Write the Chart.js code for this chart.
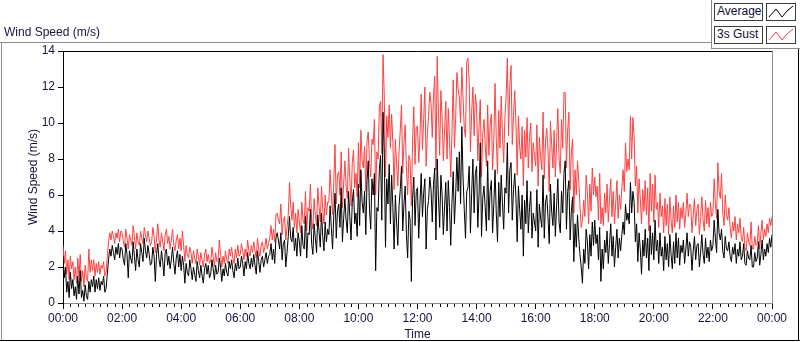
<!DOCTYPE html>
<html>
<head>
<meta charset="utf-8">
<script src="https://cdn.jsdelivr.net/npm/chart.js@4/dist/chart.umd.min.js"></script>
<style>
    body { margin: 0; background: #fff; font-family: "Liberation Sans", Arial, sans-serif; }
    #wrap { position: relative; width: 800px; height: 342px; overflow: hidden; }
    #myCanvas { position: absolute; left: 0; top: 0; }
    .ln { position: absolute; }
    .title { position: absolute; left: 4px; top: 25px; font-size: 12px; color: #14143c; }
    .leg { position: absolute; box-sizing: border-box; border: 1px solid #3c3c3c; background: #fff;
           font-size: 12px; color: #101030; line-height: 15px; padding-left: 2px; }
    .sw { position: absolute; box-sizing: border-box; border: 1px solid #3c3c3c; background: #fff; }
</style>
</head>
<body>
<div id="wrap">
    <canvas id="myCanvas" width="800" height="342"></canvas>
    <div class="title">Wind Speed (m/s)</div>
    <!-- panel frame -->
    <div class="ln" style="left:0;top:42px;width:711px;height:1px;background:#8c8c8c"></div>
    <div class="ln" style="left:1px;top:42px;width:1px;height:298px;background:#8c8c8c"></div>
    <div class="ln" style="left:0;top:340px;width:800px;height:1px;background:#000"></div>
    <div class="ln" style="left:798px;top:49px;width:1px;height:292px;background:#000"></div>
    <div class="ln" style="left:711px;top:0;width:1px;height:49px;background:#8c8c8c"></div>
    <div class="ln" style="left:711px;top:48px;width:89px;height:1px;background:#8c8c8c"></div>
    <!-- legend -->
    <div class="leg" style="left:714px;top:3px;width:49px;height:18px">Average</div>
    <div class="sw" style="left:766px;top:3px;width:30px;height:18px">
        <svg width="28" height="16"><polyline points="2,13 9,5 15,13 20,7 26,2" fill="none" stroke="#000" stroke-width="1"/></svg>
    </div>
    <div class="leg" style="left:714px;top:26px;width:49px;height:18px">3s Gust</div>
    <div class="sw" style="left:766px;top:26px;width:30px;height:18px">
        <svg width="28" height="16"><polyline points="2,13 9,5 15,13 20,7 26,2" fill="none" stroke="#ff4040" stroke-width="1"/></svg>
    </div>
</div>
<script>
// samples every 2.5 minutes from 00:00 to 24:00, one row per hour
var avgSpeed = [
    2.6, 1.4, 2.0, 0.6, 1.2, 0.3, 1.7, 0.8, 1.3, 0.4, 0.9, 0.2, 1.5, 0.5, 1.8, 0.3, 0.7, 0.1, 1.0, 0.4, 0.2, 1.2, 0.6, 1.3,
    0.9, 1.5, 0.6, 1.3, 0.8, 1.4, 0.7, 1.2, 1.0, 1.5, 0.6, 0.8, 1.6, 2.4, 3.0, 2.6, 3.2, 2.8, 2.4, 3.1, 2.7, 3.3, 2.5, 3.1,
    3.0, 2.4, 2.1, 3.3, 2.7, 1.4, 2.9, 2.5, 2.2, 3.4, 2.6, 1.8, 3.0, 2.4, 2.0, 3.3, 2.8, 2.3, 3.6, 2.9, 2.5, 3.2, 2.7, 2.1,
    2.2, 3.1, 2.6, 1.2, 2.7, 3.3, 2.4, 2.0, 2.9, 2.3, 1.5, 2.8, 3.0, 2.1, 2.6, 1.9, 2.4, 3.1, 2.2, 1.6, 2.5, 2.9, 2.0, 2.7,
    1.8, 2.6, 2.1, 1.1, 2.2, 1.7, 1.5, 2.4, 1.9, 1.3, 2.0, 1.6, 1.2, 2.3, 1.8, 1.4, 2.1, 1.5, 1.1, 1.9, 2.2, 1.6, 2.1, 1.4,
    1.6, 2.4, 1.9, 1.3, 2.1, 1.6, 1.7, 2.5, 2.0, 1.2, 1.9, 1.5, 2.2, 1.7, 1.5, 2.3, 1.9, 2.4, 1.8, 1.4, 2.2, 1.8, 2.5, 1.9,
    2.0, 2.6, 2.2, 1.5, 2.3, 1.9, 2.8, 2.2, 1.9, 2.5, 2.0, 2.7, 2.1, 1.6, 2.9, 2.3, 1.7, 2.4, 2.6, 2.0, 2.4, 2.8, 2.2, 2.6,
    2.7, 3.3, 2.4, 3.0, 2.2, 3.6, 3.9, 3.5, 3.0, 3.9, 2.4, 3.3, 3.5, 2.0, 2.8, 3.7, 4.8, 3.6, 3.4, 4.2, 2.9, 3.6, 2.6, 3.9,
    3.4, 2.6, 4.3, 3.2, 3.0, 4.8, 2.5, 3.9, 3.8, 5.2, 3.3, 2.7, 4.4, 3.6, 2.8, 4.9, 4.0, 3.1, 5.0, 3.7, 2.9, 4.5, 3.4, 4.1,
    3.8, 5.4, 4.2, 3.0, 4.9, 6.1, 3.6, 5.1, 5.5, 4.2, 6.4, 3.4, 4.7, 5.8, 4.6, 3.9, 6.2, 4.8, 3.5, 5.6, 6.3, 4.4, 5.0, 3.7,
    6.6, 4.3, 7.4, 5.6, 5.0, 6.2, 3.8, 6.8, 7.9, 5.2, 4.1, 6.9, 6.0, 7.2, 1.8, 5.3, 5.1, 7.4, 8.2, 4.6, 10.6, 8.3, 3.1, 6.9,
    5.5, 7.7, 4.4, 7.1, 5.3, 3.0, 6.0, 4.5, 3.2, 5.4, 6.3, 7.6, 4.0, 5.5, 6.5, 3.8, 2.5, 5.1, 4.6, 1.2, 5.8, 7.0, 4.3, 6.2,
    6.4, 3.6, 5.5, 7.2, 4.8, 6.1, 6.9, 3.0, 5.2, 5.7, 7.0, 6.3, 4.5, 6.6, 7.5, 3.5, 8.0, 5.9, 4.2, 7.1, 6.0, 3.8, 5.4, 6.7,
    4.0, 6.8, 5.3, 3.2, 5.6, 7.3, 4.4, 6.0, 8.1, 6.2, 8.4, 5.5, 9.8, 7.0, 5.2, 3.6, 6.2, 6.4, 7.6, 3.9, 6.1, 8.0, 5.0, 7.2,
    7.6, 4.2, 6.0, 8.9, 3.7, 5.8, 6.5, 5.3, 4.0, 7.9, 4.6, 6.2, 6.8, 3.9, 5.5, 7.4, 5.0, 3.4, 6.7, 4.8, 7.1, 5.6, 4.1, 6.4,
    6.1, 8.9, 5.0, 7.4, 7.8, 4.6, 6.3, 7.2, 5.8, 3.4, 6.5, 5.2, 4.1, 6.0, 2.6, 5.7, 4.4, 6.8, 3.9, 5.3, 6.2, 3.6, 5.0, 4.5,
    4.0, 6.3, 3.1, 5.5, 4.7, 4.2, 7.1, 3.6, 5.6, 6.0, 4.8, 3.3, 6.6, 5.1, 4.3, 6.1, 3.7, 5.4, 6.9, 4.5, 3.9, 6.2, 5.0, 7.2,
    7.9, 4.1, 6.2, 6.8, 3.5, 5.1, 5.9, 2.3, 4.4, 3.1, 4.9, 3.6, 2.7, 2.0, 1.1, 3.0, 2.2, 4.1, 3.4, 1.9, 3.8, 2.6, 4.5, 3.2,
    4.6, 3.3, 3.8, 2.4, 4.2, 1.2, 3.0, 1.9, 3.5, 2.8, 4.0, 2.2, 3.3, 4.4, 2.6, 3.7, 2.0, 3.1, 4.1, 2.5, 3.6, 2.9, 3.8, 4.5,
    3.8, 5.5, 4.6, 5.0, 4.4, 6.7, 5.0, 6.2, 5.6, 3.4, 4.4, 2.3, 3.9, 3.0, 1.6, 3.5, 2.6, 4.1, 2.5, 3.6, 1.8, 4.3, 2.7, 3.9,
    2.4, 4.6, 2.9, 3.5, 2.2, 3.9, 2.6, 3.1, 1.8, 3.7, 2.4, 3.3, 2.0, 3.8, 2.7, 1.9, 3.4, 2.2, 3.9, 2.5, 3.6, 2.1, 3.2, 2.8,
    3.5, 2.2, 3.0, 3.9, 2.6, 3.4, 3.1, 1.8, 2.9, 3.7, 2.4, 3.2, 3.3, 2.0, 2.8, 3.8, 2.7, 2.2, 3.6, 2.5, 3.1, 2.3, 3.5, 2.9,
    3.2, 4.6, 3.6, 2.8, 5.2, 3.9, 3.5, 4.1, 2.9, 2.5, 3.7, 3.0, 2.9, 3.4, 2.6, 2.3, 3.1, 2.7, 3.3, 2.2, 3.0, 2.6, 3.4, 2.4,
    2.6, 3.3, 2.2, 2.1, 2.9, 2.5, 2.4, 3.2, 2.0, 2.0, 2.8, 2.3, 2.5, 3.4, 2.1, 2.7, 3.5, 2.4, 3.0, 2.6, 3.3, 2.8, 3.6, 3.1,
    3.8
];

var gustSpeed = [
    3.2, 2.2, 2.9, 1.6, 2.4, 1.3, 2.6, 1.9, 2.3, 1.3, 2.0, 1.1, 2.5, 1.5, 2.7, 1.2, 1.8, 0.9, 2.1, 1.4, 1.2, 3.0, 1.7, 2.4,
    1.8, 2.4, 1.5, 2.2, 1.7, 2.3, 1.6, 2.1, 1.9, 2.3, 1.5, 1.7, 2.6, 3.4, 3.9, 3.5, 4.0, 3.7, 3.3, 3.9, 3.6, 4.1, 3.4, 4.0,
    3.9, 3.4, 3.1, 4.1, 3.6, 3.0, 3.8, 3.5, 3.2, 4.3, 3.7, 3.0, 3.9, 3.4, 3.2, 4.0, 3.6, 3.3, 4.2, 3.8, 3.4, 4.0, 3.6, 3.2,
    3.4, 4.2, 3.7, 2.8, 3.6, 4.4, 3.5, 3.1, 3.9, 3.4, 2.9, 3.8, 4.1, 3.3, 3.7, 3.0, 3.5, 4.1, 3.2, 2.9, 3.5, 3.8, 3.0, 3.6,
    2.9, 4.0, 3.2, 2.3, 3.2, 2.7, 2.5, 3.1, 2.8, 2.2, 2.9, 2.5, 2.2, 3.0, 2.6, 2.1, 2.8, 2.4, 2.0, 2.7, 3.0, 2.3, 2.7, 2.2,
    2.3, 3.1, 2.6, 2.0, 2.8, 2.3, 2.4, 3.5, 2.7, 2.0, 2.6, 2.2, 2.9, 2.4, 2.2, 3.0, 2.6, 3.1, 2.5, 2.2, 3.0, 2.5, 3.2, 2.6,
    2.7, 3.3, 2.9, 2.4, 3.0, 2.6, 3.5, 2.9, 2.6, 3.2, 2.8, 3.4, 2.9, 2.5, 3.6, 3.0, 2.6, 3.2, 3.4, 2.8, 3.1, 3.6, 3.0, 3.3,
    3.6, 4.3, 3.5, 4.1, 3.4, 4.9, 5.0, 4.6, 4.4, 5.5, 3.8, 4.6, 4.8, 3.5, 4.2, 4.9, 6.7, 5.4, 4.6, 5.6, 4.2, 5.0, 3.9, 5.2,
    4.5, 3.9, 5.6, 4.6, 4.4, 6.2, 4.0, 5.3, 5.1, 6.6, 4.6, 4.1, 5.8, 4.9, 4.3, 6.4, 5.4, 4.5, 6.5, 5.2, 4.4, 6.0, 4.9, 5.6,
    5.6, 7.4, 6.0, 4.9, 6.8, 8.8, 5.5, 7.1, 7.3, 6.0, 8.4, 5.3, 6.6, 7.9, 6.5, 5.8, 8.6, 6.9, 5.4, 7.8, 8.5, 6.4, 7.2, 5.9,
    8.9, 6.4, 9.6, 7.9, 7.5, 8.7, 6.2, 9.0, 9.5, 7.8, 7.0, 9.1, 8.8, 10.2, 6.0, 8.4, 8.0, 10.9, 11.2, 8.3, 13.8, 11.5, 7.0, 10.4,
    9.2, 11.0, 8.6, 10.5, 8.9, 6.3, 9.1, 7.8, 6.5, 8.4, 9.6, 11.0, 7.2, 8.9, 9.9, 7.5, 6.0, 8.2, 7.9, 5.4, 9.0, 10.9, 7.7, 9.8,
    9.8, 7.8, 9.3, 11.6, 8.5, 10.2, 12.0, 7.6, 9.4, 10.4, 11.7, 11.1, 9.2, 11.5, 12.6, 7.4, 13.7, 10.6, 8.2, 11.8, 10.3, 7.9, 9.6, 11.2,
    8.0, 10.8, 9.1, 7.0, 9.5, 12.4, 8.6, 10.3, 12.8, 11.9, 11.4, 10.0, 13.1, 11.4, 9.7, 9.2, 13.4, 13.6, 12.3, 8.4, 10.6, 12.0, 9.3, 11.6,
    10.9, 7.9, 9.8, 11.3, 7.0, 9.4, 10.2, 8.8, 7.6, 11.0, 8.2, 9.9, 10.5, 7.4, 9.1, 12.2, 9.1, 7.2, 10.7, 8.6, 11.5, 9.4, 7.8, 10.3,
    11.5, 13.6, 9.3, 12.1, 13.2, 8.8, 10.4, 11.8, 9.9, 7.1, 10.4, 8.7, 8.0, 9.8, 6.5, 9.6, 8.1, 10.3, 7.5, 9.2, 10.0, 7.3, 8.9, 8.2,
    7.6, 9.9, 6.5, 9.2, 8.1, 7.4, 10.6, 6.9, 9.0, 9.7, 8.5, 6.2, 10.1, 8.8, 7.5, 9.6, 7.0, 8.9, 10.8, 8.0, 7.2, 10.2, 8.6, 11.7,
    11.7, 7.5, 9.6, 10.6, 6.3, 8.4, 9.1, 5.0, 7.4, 6.0, 7.9, 6.8, 5.4, 4.2, 4.6, 5.7, 4.8, 7.1, 6.2, 4.4, 6.6, 5.1, 7.5, 6.0,
    7.0, 5.9, 6.5, 4.6, 7.2, 4.4, 5.3, 4.3, 6.1, 5.0, 6.6, 4.5, 5.8, 6.9, 4.8, 6.2, 4.4, 5.5, 6.8, 4.7, 6.0, 5.2, 6.4, 7.4,
    6.2, 8.9, 7.3, 8.0, 7.4, 10.4, 8.0, 10.3, 9.2, 6.5, 7.6, 5.0, 6.9, 5.8, 4.4, 6.3, 5.1, 6.8, 4.9, 6.4, 4.0, 7.2, 5.1, 6.6,
    4.5, 7.1, 5.2, 5.6, 4.2, 6.1, 4.8, 5.4, 3.9, 5.8, 4.3, 5.5, 3.8, 5.9, 4.6, 3.9, 5.4, 4.2, 6.0, 4.5, 5.6, 4.1, 5.3, 4.7,
    5.6, 4.2, 5.0, 6.1, 4.8, 5.5, 5.4, 3.9, 4.9, 5.8, 4.3, 5.2, 5.5, 3.8, 4.7, 5.9, 4.6, 4.0, 5.7, 4.4, 5.3, 4.2, 5.6, 4.8,
    5.0, 6.9, 5.5, 4.7, 7.8, 6.2, 5.8, 7.2, 5.0, 4.3, 6.0, 4.9, 4.6, 5.3, 4.2, 3.6, 4.5, 4.0, 4.8, 3.5, 4.4, 3.9, 4.7, 3.6,
    3.4, 4.2, 3.1, 2.9, 3.9, 3.4, 3.2, 4.5, 3.0, 3.0, 3.7, 3.2, 3.3, 4.3, 3.0, 3.9, 4.6, 3.5, 4.1, 3.7, 4.4, 3.9, 4.7, 4.3,
    4.8
];

var timeLabels = ['00:00', '02:00', '04:00', '06:00', '08:00', '10:00', '12:00',
    '14:00', '16:00', '18:00', '20:00', '22:00', '00:00'];

var labelColor = '#14143c';
var dayMinutes = 1440;

function ToPoints(values) {
    var pts = [];
    var step = dayMinutes / (values.length - 1);
    for (var i = 0; i < values.length; i++) {
        pts.push({ x: i * step, y: values[i] });
    }
    return pts;
}

// short minor ticks every 15 min plus the top/right edges of the plot frame
var frameAndMinorTicks = {
    id: 'frameAndMinorTicks',
    afterDraw: function (chart) {
        var ctx = chart.ctx;
        var area = chart.chartArea;
        var xs = chart.scales.x;
        ctx.save();
        ctx.lineWidth = 1;
        ctx.strokeStyle = '#000';
        ctx.beginPath();
        for (var m = 15; m < dayMinutes; m += 15) {
            if (m % 120 === 0) continue;
            var px = Math.round(xs.getPixelForValue(m)) + 0.5;
            ctx.moveTo(px, area.bottom + 1);
            ctx.lineTo(px, area.bottom + 4);
        }
        ctx.stroke();

        ctx.beginPath();
        ctx.moveTo(area.left, Math.round(area.top) + 0.5);
        ctx.lineTo(area.right, Math.round(area.top) + 0.5);
        ctx.stroke();

        ctx.strokeStyle = '#8c8c8c';
        ctx.beginPath();
        ctx.moveTo(Math.round(area.right) + 0.5, area.top);
        ctx.lineTo(Math.round(area.right) + 0.5, area.bottom);
        ctx.stroke();
        ctx.restore();
    }
};

function SetGraph() {
    var ctx = document.getElementById('myCanvas').getContext('2d');
    var myChart = new Chart(ctx, {
        type: 'line',
        data: {
            datasets: [{
                label: 'Average',
                data: ToPoints(avgSpeed),
                borderColor: '#000000',
                borderWidth: 1,
                pointRadius: 0,
                tension: 0,
                order: 0
            }, {
                label: '3s Gust',
                data: ToPoints(gustSpeed),
                borderColor: '#ff4040',
                borderWidth: 1,
                pointRadius: 0,
                tension: 0,
                order: 1
            }]
        },
        options: {
            responsive: false,
            animation: false,
            events: [],
            layout: { padding: { left: 0, right: 28, top: 51, bottom: 0 } },
            plugins: {
                legend: { display: false },
                tooltip: { enabled: false }
            },
            scales: {
                x: {
                    type: 'linear',
                    min: 0,
                    max: dayMinutes,
                    afterFit: function (scale) { scale.height = 39; },
                    grid: { drawOnChartArea: false, tickLength: 6, tickColor: '#000' },
                    border: { color: '#8c8c8c' },
                    ticks: {
                        stepSize: 120,
                        autoSkip: false,
                        maxRotation: 0,
                        padding: 2,
                        color: labelColor,
                        font: { family: 'Liberation Sans', size: 12 },
                        callback: function (v) { return timeLabels[Math.round(v / 120)]; }
                    },
                    title: {
                        display: true,
                        text: 'Time',
                        color: labelColor,
                        font: { family: 'Liberation Sans', size: 12 },
                        padding: { top: 0, bottom: 0 }
                    }
                },
                y: {
                    min: 0,
                    max: 14,
                    afterFit: function (scale) { scale.width = 63; },
                    grid: { drawOnChartArea: false, tickLength: 5, tickColor: '#000' },
                    border: { color: '#000' },
                    ticks: {
                        stepSize: 2,
                        padding: 3,
                        color: labelColor,
                        font: { family: 'Liberation Sans', size: 12 }
                    },
                    title: {
                        display: true,
                        text: 'Wind Speed (m/s)',
                        color: labelColor,
                        font: { family: 'Liberation Sans', size: 12 },
                        padding: { top: 26, bottom: 0 }
                    }
                }
            }
        },
        plugins: [frameAndMinorTicks]
    });
}

SetGraph();
</script>
</body>
</html>
